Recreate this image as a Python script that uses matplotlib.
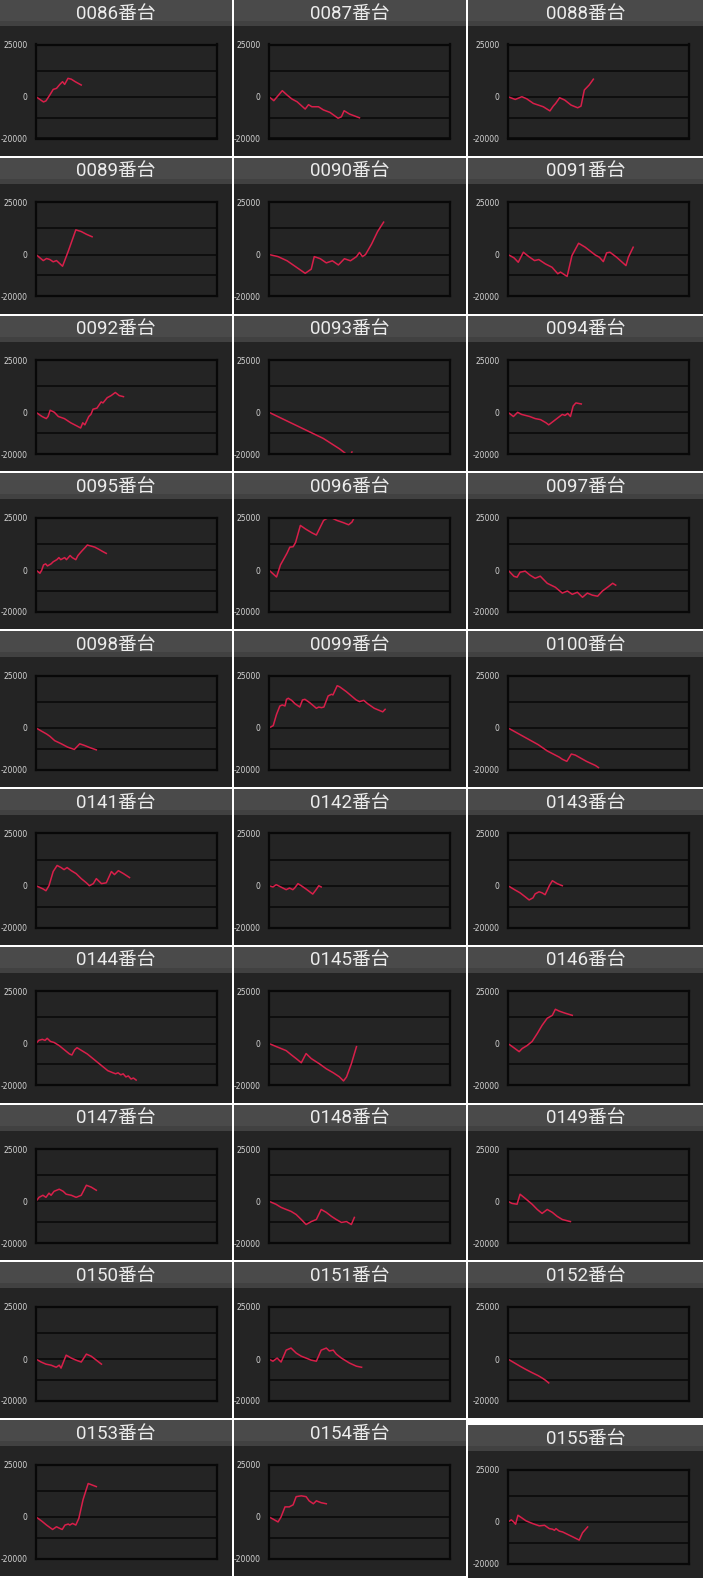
import matplotlib.pyplot as plt
from matplotlib.patches import Rectangle

plt.rcParams['font.family'] = ['Roboto', 'Noto Sans CJK JP', 'DejaVu Sans']

# machine numbers, in reading order (3 per row)
machines = ['0086', '0087', '0088', '0089', '0090', '0091', '0092', '0093', '0094',
            '0095', '0096', '0097', '0098', '0099', '0100', '0141', '0142', '0143',
            '0144', '0145', '0146', '0147', '0148', '0149', '0150', '0151', '0152',
            '0153', '0154', '0155']

# x: games (axis runs 0..60), y: medal difference in thousands
x0086 = [0, 2.5, 3.3, 4.7, 5.7, 6.8, 7.9, 8.8, 9.5, 10.6, 11.7, 13, 15]
y0086 = [0, -2.5, -2, 1.1, 3.5, 4, 5.9, 7.2, 5.9, 8.8, 8.4, 7.2, 5.6]
x0087 = [0, 1.6, 4.4, 6.0, 7.6, 9.3, 12.0, 13.1, 14.2, 16.4, 18.0, 20.2, 22.9, 24.0, 24.9, 26.7, 30]
y0087 = [0, -1.9, 2.9, 0.8, -1.1, -2.4, -5.9, -3.8, -4.8, -4.8, -6.3, -7.5, -10.3, -9.6, -6.7, -8.3, -10.1]
x0088 = [0, 2.4, 4.6, 6.2, 8.4, 11.7, 13.9, 15.0, 15.8, 17.1, 18.8, 20.9, 23.1, 24.2, 25.3, 26.9, 28.3]
y0088 = [0, -1.3, 0, -1, -3.2, -4.8, -6.8, -4.5, -3.2, -0.5, -1.6, -4, -5.3, -4.5, 3.2, 5.6, 8.4]
x0089 = [0, 2.4, 3.5, 4.6, 5.7, 6.8, 8.8, 10.7, 13.2, 15.0, 16.7, 18.6]
y0089 = [0, -2.9, -1.9, -2.4, -3.5, -2.9, -5.6, 1.6, 11.8, 11.0, 9.7, 8.5]
x0090 = [0, 3, 6, 9, 11, 12, 14, 15, 17, 19, 21, 23, 25, 27, 29, 30, 31, 32, 34, 36, 38]
y0090 = [0, -1, -3, -6, -8, -9, -7, -1, -2, -4, -3, -5, -2, -3, -1, 1, -1, 0, 5, 11, 15.5]
x0091 = [0, 2.0, 3.4, 5.1, 6.9, 8.8, 10.2, 12.4, 14.6, 16.5, 17.4, 19.6, 21.2, 23.4, 25.6,
         28.9, 30.3, 31.6, 32.7, 33.8, 36.0, 39.1, 39.9, 41.5]
y0091 = [0, -1.6, -3.7, 1.1, -1, -2.9, -2.4, -4.5, -6.1, -9.2, -8.4, -10.5, -0.5, 5.4, 3.5,
         -0.2, -1.3, -3.4, 0.8, 1.1, -1.3, -5.3, -1.3, 3.5]
x0092 = [0, 2, 3.4, 4, 4.7, 6.1, 7.4, 9.4, 11.5, 13.5, 14.8, 15.5, 16.2, 17.5, 18.2, 18.9,
         20.2, 21.6, 22.2, 23.6, 24.9, 26.3, 27.6, 29]
y0092 = [0, -2, -3, -2, 1, 0, -2, -3, -5, -6.5, -7.5, -5, -6, -2, -1, 1.5, 2, 5, 4.5, 7, 8,
         9.5, 8, 7.5]
x0093 = [0, 3.6, 7.2, 10.8, 14.4, 18, 20.7, 23.4, 25.2, 26.5, 27.5]
y0093 = [0, -2.5, -5, -7.5, -10, -12.5, -15, -17.5, -19.5, -22, -19]
x0094 = [0, 1.8, 3.2, 4.5, 7.2, 9, 10.8, 12.6, 13.5, 15.3, 16.2, 18, 18.9, 19.8, 20.7, 21.6,
         22.5, 24.3]
y0094 = [0, -2, 0, -1, -2, -3, -3.5, -5, -6, -4, -3, -1, -1.5, -0.5, -2, 3, 4.5, 4]
x0095 = [0, 1.3, 1.9, 2.5, 3.2, 3.8, 5, 5.7, 6.9, 7.6, 8.2, 9.5, 10.1, 11.3, 12, 13.2, 13.9,
         15.1, 16.4, 17, 18.3, 19.5, 20.8, 22, 23.3]
y0095 = [0, -1.5, 0, 2.5, 3, 2, 3, 4, 5, 6, 5, 6, 5, 7, 6, 5, 7, 9, 11, 12, 11.5, 11, 10, 9, 8]
x0096 = [0, 2.5, 3.8, 5.2, 6.0, 6.9, 8.0, 8.8, 10.4, 12.1, 14.3, 15.7, 17.0, 18.1, 19.5,
         20.3, 21.2, 22.5, 24.7, 26.4, 27.5, 28.2]
y0096 = [0, -3.3, 2.5, 6.1, 8.2, 11, 11.2, 13.2, 21.4, 19.7, 17.8, 16.8, 20.6, 23.8, 25,
         27, 24.7, 23.8, 22.7, 21.7, 23, 25]
x0097 = [0, 2, 3, 4, 5.7, 7.3, 9, 10.7, 13, 15.7, 18, 19.7, 21.3, 23, 24.7, 26.3, 28, 29.7,
         31.3, 33, 34.7, 35.7]
y0097 = [0, -3, -3.4, -1, -0.5, -2.4, -3.9, -2.9, -6.3, -8.2, -11, -10, -11.6, -10.6, -13,
         -11, -12, -12.5, -10, -8.2, -6.3, -7.2]
x0098 = [0, 1.9, 3.5, 4.6, 6.2, 8.4, 10.5, 12.7, 14.5, 16.1, 17.8, 20.0]
y0098 = [0, -1.6, -2.9, -4, -6.1, -7.6, -9.2, -10.3, -7.6, -8.4, -9.4, -10.5]
x0099 = [0, 1.4, 2.5, 3.6, 4.4, 5.3, 5.8, 6.4, 7.5, 8.6, 10.2, 11.1, 11.9, 13.5, 15.7, 16.5,
         17.4, 18.2, 19.6, 20.7, 21.2, 22.6, 23.4, 25.6, 28.9, 30.0, 31.4, 32.7, 34.9, 37.7, 38.5]
y0099 = [0, 1.1, 6.5, 10.5, 11, 10.5, 13.7, 14.2, 13.2, 11.6, 10, 13.4, 13.7, 12.1, 9.4, 10,
         9.7, 10, 15.3, 16.1, 15.8, 20.2, 19.7, 17.4, 13.4, 12.6, 13.2, 11.6, 9.4, 7.7, 8.9]
x0100 = [0, 5, 10, 13, 17, 18, 19.5, 21, 22.3, 26, 29, 30]
y0100 = [0, -4, -8, -11, -14, -15, -16, -12.5, -13, -16, -18, -19]
x0141 = [0, 2.3, 3.3, 4.3, 5.7, 7, 8.3, 9.3, 10.3, 11.7, 13.3, 15, 16.7, 17.7, 19, 20, 21.7,
         23.3, 25, 26, 27.3, 29, 31]
y0141 = [0, -1.5, -2.4, 0, 6.8, 9.7, 8.7, 7.7, 8.7, 7.2, 5.8, 3.4, 1.4, 0, 1, 3.4, 1,
         1.4, 6.8, 5.3, 7.2, 5.8, 3.9]
x0142 = [0, 1.3, 2.4, 3.5, 4.6, 5.7, 6.8, 7.9, 8.5, 9.6, 10.7, 12.3, 14.5, 15.6, 16.5, 17.3]
y0142 = [0, -0.6, 0.5, -0.3, -1.1, -1.9, -1.1, -1.9, -1.1, 1, 0, -1.6, -4, -1.9, 0, -0.6]
x0143 = [0, 2.3, 4, 5.7, 7, 8.3, 9, 10.3, 11.3, 12.3, 13.7, 14.7, 16.3, 18]
y0143 = [0, -2, -3.4, -5.3, -6.8, -5.8, -3.9, -2.9, -3.4, -4.3, 0, 2.4, 1, 0]
x0144 = [0, 0.9, 2.1, 3, 3.7, 4.8, 6, 7.7, 9.4, 11.1, 11.9, 12.8, 13.6, 15.3, 17, 18.7, 20.4,
         22.1, 23.8, 25.5, 26.4, 27.2, 28.1, 28.9, 29.8, 30.6, 31.5, 32.3, 33.2]
y0144 = [0, 1.5, 2, 1.5, 2.5, 1, 0.5, -1, -3, -5, -5.5, -3, -2, -3.5, -5, -7, -9, -11, -13, -14,
         -14.5, -14, -15, -14.5, -16, -15.5, -17, -16.5, -17.5]
x0145 = [0, 2.3, 4, 5.7, 7.3, 9, 10.7, 12.3, 14, 16.7, 19, 21.3, 23.3, 24.7, 25.7, 27.3, 29]
y0145 = [0, -1.4, -2.4, -3.4, -5.3, -7.2, -9.2, -4.8, -7.2, -9.7, -12.1, -14, -15.9, -17.9,
         -16, -9.7, -1.5]
x0146 = [0, 2.3, 3.7, 4.7, 6.3, 8, 9.7, 11.3, 13, 14.7, 15.7, 17, 19, 21.3]
y0146 = [0, -2.4, -3.9, -2.4, -1, 1, 4.8, 8.7, 12.1, 13.5, 16.4, 15.5, 14.5, 13.5]
x0147 = [0, 1, 2.3, 3.3, 4.3, 5, 6, 7.7, 9, 10, 11.7, 13.3, 15, 16.7, 18.3, 20]
y0147 = [0, 1.9, 2.9, 1.9, 3.9, 2.9, 4.8, 5.8, 4.8, 3.4, 2.9, 1.9, 2.9, 7.7, 6.8, 5.3]
x0148 = [0, 2.3, 4, 5.7, 7.3, 9, 10.7, 12.3, 14, 15.7, 17.3, 19, 20.7, 22.3, 24, 25.7, 27.3, 28.3]
y0148 = [0, -1.4, -2.9, -3.9, -4.8, -6.3, -8.7, -11.1, -9.7, -8.7, -3.9, -5.3, -7.2, -8.7,
         -10.1, -9.7, -11.1, -7.7]
x0149 = [0, 1.3, 3, 4, 5.7, 8, 9.7, 11.3, 13, 14.7, 16.3, 18, 20.7]
y0149 = [0, -1, -1.4, 3.4, 1.4, -1.4, -3.9, -5.8, -3.9, -5.3, -7.2, -8.7, -9.7]
x0150 = [0, 1.7, 3.3, 5, 6.7, 7.7, 8.3, 10, 11.7, 13.3, 15, 16.7, 18.3, 20, 21.7]
y0150 = [0, -1.4, -2.4, -2.9, -3.9, -2.9, -4.3, 1.9, 0.5, -0.5, -1.4, 2.4, 1.4, -0.5, -2.4]
x0151 = [0, 1.3, 2.7, 4, 5.7, 7.3, 9, 10.7, 12.3, 14, 15.7, 17.3, 19, 20, 21.3, 22.3, 24,
         26.7, 29, 30.7]
y0151 = [0, -1, 0.5, -1.4, 4.3, 5.3, 2.9, 1.4, 0.5, -0.5, -1, 4.3, 5.3, 3.9, 4.3, 2.4, 0.5,
         -1.9, -3.4, -3.9]
x0152 = [0, 2, 4, 6, 8, 10, 11.5, 12.5, 13.5]
y0152 = [0, -1.7, -3.4, -5, -6.5, -7.9, -9.2, -10.2, -11.4]
x0153 = [0, 1.9, 3.5, 5.5, 6.8, 7.9, 8.7, 9.6, 10.7, 11.2, 12.1, 13.2, 14.2, 15.6, 17.3, 20.0]
y0153 = [0, -2, -3.9, -6, -4.7, -5.5, -6, -3.9, -3.4, -3.9, -3.1, -3.9, -0.7, 8.3, 16, 14.5]
x0154 = [0, 1.3, 3, 4, 5.3, 6.7, 8, 9, 10.7, 12.3, 13.3, 14.7, 15.7, 17.3, 19]
y0154 = [0, -1, -2.4, 0, 4.8, 4.8, 5.8, 9.7, 10.1, 9.7, 7.7, 6.3, 7.7, 6.8, 6.3]
x0155 = [0, 1.1, 1.9, 2.5, 3.3, 4.4, 6.0, 8.2, 10.4, 12.1, 13.7, 14.8, 15.4, 15.9, 17.0,
         18.1, 19.8, 21.4, 23.6, 24.7, 26.4]
y0155 = [0, 1, 0, -1.1, 3.2, 2.1, 0.5, -0.8, -1.9, -1.6, -3.2, -3.5, -4, -3.2, -4.4,
         -4.8, -6, -7.1, -8.7, -5.2, -2.4]

xs = [x0086, x0087, x0088, x0089, x0090, x0091, x0092, x0093, x0094, x0095, x0096, x0097,
      x0098, x0099, x0100, x0141, x0142, x0143, x0144, x0145, x0146, x0147, x0148, x0149,
      x0150, x0151, x0152, x0153, x0154, x0155]
ys = [y0086, y0087, y0088, y0089, y0090, y0091, y0092, y0093, y0094, y0095, y0096, y0097,
      y0098, y0099, y0100, y0141, y0142, y0143, y0144, y0145, y0146, y0147, y0148, y0149,
      y0150, y0151, y0152, y0153, y0154, y0155]

W, H = 703, 1578
ROW_H = 157.8
col_left = [0, 234, 468]
col_w = [232, 232, 235]
ax_left = [36, 35, 40]
shift = [0] * 29 + [5]  # last screenshot sits a bit lower

BODY = '#242424'
LINE = '#d81f4a'

fig = plt.figure(figsize=(W / 100, H / 100), dpi=100, facecolor='white')
bg = fig.add_axes([0, 0, 1, 1])
bg.set_xlim(0, W)
bg.set_ylim(H, 0)
bg.axis('off')


def px_axes(left, top, width, height):
    return fig.add_axes([left / W, 1 - (top + height) / H, width / W, height / H])


for i, name in enumerate(machines):
    r, c = divmod(i, 3)
    top = r * ROW_H + shift[i]
    left = col_left[c]
    w = col_w[c]
    bg.add_patch(Rectangle((left, top), w, ROW_H - 2, color=BODY, lw=0))
    bg.add_patch(Rectangle((left, top), w, 26, color='#4a4a4a', lw=0))
    bg.add_patch(Rectangle((left, top + 21), w, 5, color='#414141', lw=0))
    bg.text(left + w / 2, top + 13.5, name + '番台', color='#ececec', fontsize=13.5,
            ha='center', va='center')

    ax = px_axes(left + ax_left[c], top + 44.5, 181, 94)
    ax.set_facecolor(BODY)
    ax.plot(xs[i], [v * 1000 for v in ys[i]], color=LINE, lw=1.1)
    ax.set_xlim(0, 60)
    ax.set_ylim(-20000, 25000)
    ax.set_xticks([])
    ax.set_yticks([-20000, -10000, 0, 12500, 25000])
    ax.set_yticklabels(['-20000', '', '0', '', '25000'], family='DejaVu Sans',
                       fontsize=5.5, color='#d4d4d4')
    ax.tick_params(length=0, pad=6)
    ax.grid(axis='y', color='#080808', lw=1.1)
    for s in ax.spines.values():
        s.set_color('#080808')
        s.set_linewidth(1.6)

fig.savefig('out.png', dpi=100, facecolor='white')
